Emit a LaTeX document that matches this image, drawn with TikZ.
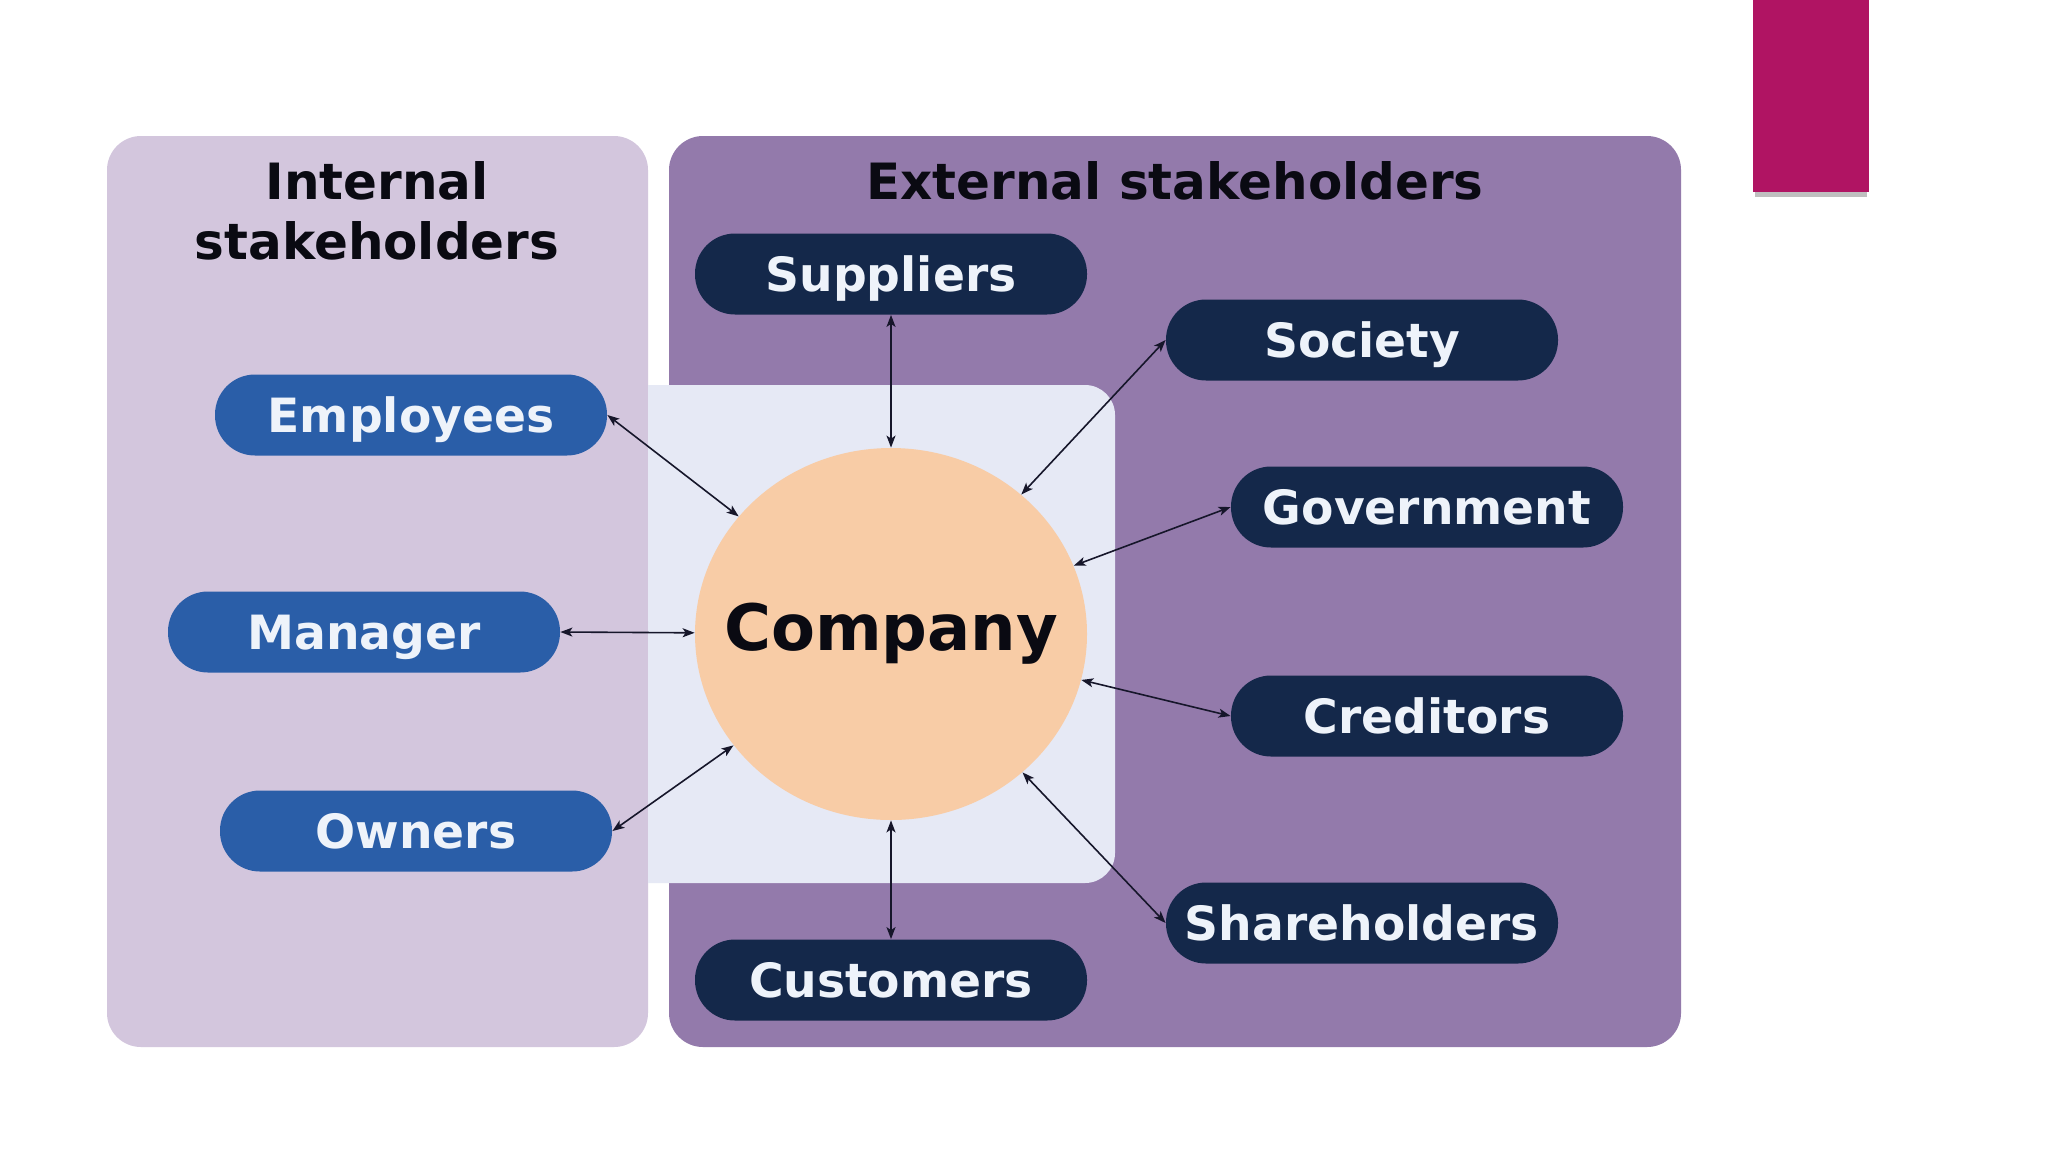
\documentclass[tikz,border=0pt]{standalone}
\usepackage{fontspec}
\setmainfont{DejaVu Sans}
\usetikzlibrary{arrows.meta,shapes.geometric}
\definecolor{intbg}{HTML}{D3C6DD}
\definecolor{extbg}{HTML}{937AAB}
\definecolor{lightsq}{HTML}{E6E9F5}
\definecolor{peach}{HTML}{F8CCA6}
\definecolor{intnode}{HTML}{2A5EA8}
\definecolor{extnode}{HTML}{14284A}
\definecolor{nodetext}{HTML}{EEF3FA}
\definecolor{magbar}{HTML}{B01463}
\definecolor{linec}{HTML}{16162A}
\definecolor{titlec}{HTML}{0A0A12}
\begin{document}
\begin{tikzpicture}[x=0.5pt,y=-0.5pt,
  stake/.style={rounded corners=20pt, minimum width=196pt, minimum height=40.5pt, inner sep=0pt, text height=22.9pt, text depth=5pt, text=nodetext, font=\fontsize{23.6}{28}\selectfont\bfseries},
  intst/.style={stake, fill=intnode},
  extst/.style={stake, fill=extnode},
  conn/.style={{Stealth[length=6pt,width=4.5pt,inset=1.5pt]}-{Stealth[length=6pt,width=4.5pt,inset=1.5pt]}, line width=0.8pt, draw=linec},
  paneltitle/.style={font=\fontsize{25}{30}\selectfont\bfseries, text=titlec, align=center}]
\useasboundingbox (0,0) rectangle (2048,1152);
\fill[white] (0,0) rectangle (2048,1152);
% panels
\fill[intbg, rounded corners=17pt] (107,136) rectangle (648,1047);
\fill[extbg, rounded corners=17pt] (669,136) rectangle (1681,1047);
\fill[lightsq] (648,385) -- (1000,385) [rounded corners=15pt] -- (1115,385) -- (1115,883) -- (1000,883) [sharp corners] -- (648,883) -- cycle;
% magenta bar
\fill[black!25] (1755,190) rectangle (1867,197);
\fill[magbar] (1753,0) rectangle (1869,192);
% titles
\node[paneltitle] (inttitle) at (377,211) {Internal\\stakeholders};
\node[paneltitle] (exttitle) at (1175,181) {External stakeholders};
% company
\node[ellipse, fill=peach, minimum width=196pt, minimum height=186pt, inner sep=0pt] (comp) at (891,634) {};
\node[font=\fontsize{32}{36}\selectfont\bfseries, text=titlec, inner sep=0pt] (complabel) at (comp.center) {Company};
% internal
\node[intst] (emp) at (411,415) {Employees};
\node[intst] (man) at (364,632) {Manager};
\node[intst] (own) at (416,831) {Owners};
% external
\node[extst] (sup) at (891,274) {Suppliers};
\node[extst] (soc) at (1362,340) {Society};
\node[extst] (gov) at (1427,507) {Government};
\node[extst] (cred) at (1427,716) {Creditors};
\node[extst] (share) at (1362,923) {Shareholders};
\node[extst] (cust) at (891,980) {Customers};
% connectors
\draw[conn] (emp.east) -- (comp);
\draw[conn] (man.east) -- (comp);
\draw[conn] (own.east) -- (comp);
\draw[conn] (sup.south) -- (comp);
\draw[conn] (soc.west) -- (comp);
\draw[conn] (gov.west) -- (comp);
\draw[conn] (cred.west) -- (comp);
\draw[conn] (share.west) -- (comp);
\draw[conn] (cust.north) -- (comp);
\end{tikzpicture}
\end{document}
